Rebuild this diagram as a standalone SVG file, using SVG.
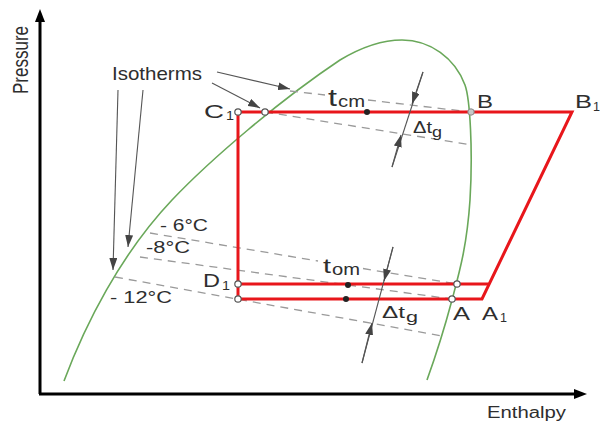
<svg xmlns="http://www.w3.org/2000/svg" width="600" height="423" viewBox="0 0 600 423">
<defs>
<style>
.t{font-family:"Liberation Sans",Arial,sans-serif;fill:#2e2e2e}
.iso{fill:none;stroke:#9a9a9a;stroke-width:1.3;stroke-dasharray:8 6}
.red{fill:none;stroke:#e8161b;stroke-width:3;stroke-linejoin:miter}
.pt{fill:#fff;stroke:#555;stroke-width:1.2}
.dot{fill:#222}
.ar{fill:none;stroke:#555;stroke-width:1.1}
</style>
<marker id="ga" viewBox="0 0 12 8" refX="12" refY="4" markerWidth="12" markerHeight="8" orient="auto" markerUnits="userSpaceOnUse"><path d="M0,0 L12,4 L0,8 z" fill="#444"/></marker>
</defs>
<rect width="600" height="423" fill="#fff"/>
<g id="axes">
<line x1="40" y1="394" x2="40" y2="20" stroke="#000" stroke-width="3"/>
<polygon points="40,9 35,22 45,22" fill="#000"/>
<line x1="39" y1="394" x2="576" y2="394" stroke="#000" stroke-width="3"/>
<polygon points="587,394 574,389 574,399" fill="#000"/>
<text class="t" transform="translate(28,60) scale(1.3,1) rotate(-90)" text-anchor="middle" font-size="17">Pressure</text>
<text class="t" x="487" y="418" font-size="16" textLength="79" lengthAdjust="spacingAndGlyphs">Enthalpy</text>
</g>
<g id="saturation-curve">
<path d="M64,381 C85,325 120,255 172,200 C210,160 280,100 340,60 C360,48 380,40 402,40 C430,40 455,58 465,85 C470,99 473,150 470,200 C467,245 460,270 452,300 C444,330 436,355 427,380" fill="none" stroke="#6aa85a" stroke-width="1.6"/>
</g>
<g id="isotherms">
<path class="iso" d="M290,91 L325,95 M368,100 L471,112"/>
<path class="iso" d="M265,112 L472,145"/>
<path class="iso" d="M150,233 L318,261 M363,268.5 L457,284"/>
<path class="iso" d="M140,257 L452,299"/>
<path class="iso" d="M115,277 L442,336"/>
</g>
<g id="cycle">
<polyline class="red" points="238,299 238,112 572,112 482,299 238,299"/>
<line class="red" x1="238" y1="284" x2="488.5" y2="284"/>
</g>
<g id="points">
<circle class="pt" cx="238" cy="112" r="3.2"/>
<circle class="pt" cx="265" cy="112" r="3.2"/>
<circle cx="471" cy="112" r="3.2" fill="#c8c8c8" stroke="#888" stroke-width="1"/>
<circle class="pt" cx="238" cy="284" r="3.2"/>
<circle class="pt" cx="238" cy="299" r="3.2"/>
<circle class="pt" cx="457" cy="284" r="3.2"/>
<circle class="pt" cx="452" cy="299" r="3.2"/>
<circle class="dot" cx="367" cy="112" r="3"/>
<circle class="dot" cx="348" cy="285" r="3"/>
<circle class="dot" cx="346" cy="299" r="3"/>
</g>
<g id="annotation-arrows">
<line class="ar" x1="118" y1="90" x2="113" y2="270" marker-end="url(#ga)"/>
<line class="ar" x1="143" y1="90" x2="128" y2="247" marker-end="url(#ga)"/>
<line class="ar" x1="217" y1="72" x2="290" y2="89" marker-end="url(#ga)"/>
<line class="ar" x1="212" y1="83" x2="260" y2="108" marker-end="url(#ga)"/>
<line class="ar" x1="423" y1="72" x2="392" y2="167"/>
<line class="ar" x1="423" y1="72" x2="412" y2="104" marker-end="url(#ga)"/>
<line class="ar" x1="392" y1="167" x2="401" y2="135" marker-end="url(#ga)"/>
<line class="ar" x1="393" y1="247" x2="362" y2="363"/>
<line class="ar" x1="393" y1="247" x2="384" y2="281" marker-end="url(#ga)"/>
<line class="ar" x1="362" y1="363" x2="372" y2="323" marker-end="url(#ga)"/>
</g>
<g id="labels">
<text class="t" x="112" y="80" font-size="19" textLength="90" lengthAdjust="spacingAndGlyphs">Isotherms</text>
<text class="t" x="204" y="118" font-size="19" textLength="20" lengthAdjust="spacingAndGlyphs">C</text>
<text class="t" x="226" y="120" font-size="12" textLength="8" lengthAdjust="spacingAndGlyphs">1</text>
<text class="t" x="477" y="108" font-size="18" textLength="16" lengthAdjust="spacingAndGlyphs">B</text>
<text class="t" x="575" y="108" font-size="18" textLength="17" lengthAdjust="spacingAndGlyphs">B</text>
<text class="t" x="593" y="111" font-size="12" textLength="7" lengthAdjust="spacingAndGlyphs">1</text>
<text class="t" x="203" y="287" font-size="19" textLength="17" lengthAdjust="spacingAndGlyphs">D</text>
<text class="t" x="222" y="290" font-size="12" textLength="8" lengthAdjust="spacingAndGlyphs">1</text>
<text class="t" x="453" y="320" font-size="18" textLength="17" lengthAdjust="spacingAndGlyphs">A</text>
<text class="t" x="482" y="320" font-size="18" textLength="16" lengthAdjust="spacingAndGlyphs">A</text>
<text class="t" x="500" y="322" font-size="12" textLength="7" lengthAdjust="spacingAndGlyphs">1</text>
<text class="t" x="328" y="106" font-size="23" textLength="9" lengthAdjust="spacingAndGlyphs">t</text>
<text class="t" x="338" y="107" font-size="16" textLength="27" lengthAdjust="spacingAndGlyphs">cm</text>
<text class="t" x="323" y="273" font-size="21" textLength="8" lengthAdjust="spacingAndGlyphs">t</text>
<text class="t" x="332" y="275" font-size="16" textLength="28" lengthAdjust="spacingAndGlyphs">om</text>
<text class="t" x="413" y="133" font-size="16" textLength="19" lengthAdjust="spacingAndGlyphs">Δt</text>
<text class="t" x="432" y="137" font-size="14" textLength="10" lengthAdjust="spacingAndGlyphs">g</text>
<text class="t" x="382" y="318" font-size="16" textLength="23" lengthAdjust="spacingAndGlyphs">Δt</text>
<text class="t" x="406" y="322" font-size="14" textLength="12" lengthAdjust="spacingAndGlyphs">g</text>
<text class="t" x="160" y="231" font-size="17" textLength="48" lengthAdjust="spacingAndGlyphs">- 6°C</text>
<text class="t" x="146" y="253" font-size="17" textLength="44" lengthAdjust="spacingAndGlyphs">-8°C</text>
<text class="t" x="110" y="303" font-size="17" textLength="62" lengthAdjust="spacingAndGlyphs">- 12°C</text>
</g>
</svg>
